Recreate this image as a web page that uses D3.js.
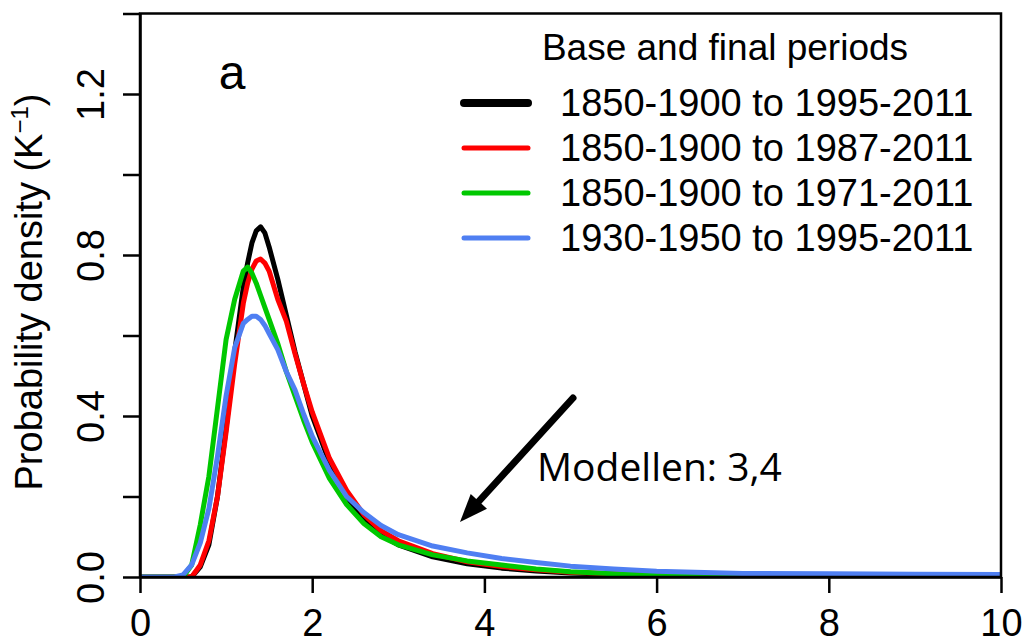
<!DOCTYPE html>
<html>
<head>
<meta charset="utf-8">
<script src="https://cdn.jsdelivr.net/npm/d3@7"></script>
<style>
  html, body { margin: 0; padding: 0; background: #fff; }
  svg { display: block; }
</style>
</head>
<body>
<svg id="chart" width="1025" height="639"></svg>
<script>
// Climate sensitivity posterior densities (K^-1) for four base/final period pairs
const temps = [0, 0.4, 0.5, 0.6, 0.7, 0.8, 0.9, 1.0, 1.1, 1.2, 1.25, 1.3, 1.35, 1.4, 1.45, 1.5,
               1.6, 1.7, 1.8, 1.9, 2.0, 2.2, 2.4, 2.6, 2.8, 3.0, 3.4, 3.8, 4.2, 4.6, 5.0,
               5.5, 6.0, 7.0, 8.0, 9.0, 10.0];

const density1995 = [0, 0, 0, 0, 0.025, 0.08, 0.2, 0.37, 0.56, 0.72, 0.78, 0.83, 0.86, 0.87, 0.855, 0.82,
                     0.74, 0.65, 0.56, 0.48, 0.40, 0.285, 0.2, 0.14, 0.105, 0.08, 0.05, 0.033, 0.022, 0.015, 0.01,
                     0.007, 0.005, 0.003, 0.003, 0.002, 0.001];
const density1987 = [0, 0, 0, 0, 0.03, 0.09, 0.2, 0.36, 0.53, 0.68, 0.73, 0.765, 0.785, 0.79, 0.78, 0.76,
                     0.69, 0.635, 0.555, 0.48, 0.41, 0.295, 0.215, 0.155, 0.115, 0.09, 0.058, 0.038, 0.026, 0.018, 0.012,
                     0.008, 0.005, 0.003, 0.002, 0.001, 0.001];
const density1971 = [0, 0, 0, 0.03, 0.13, 0.25, 0.42, 0.59, 0.69, 0.76, 0.77, 0.755, 0.73, 0.70, 0.67, 0.64,
                     0.58, 0.51, 0.45, 0.39, 0.335, 0.245, 0.18, 0.133, 0.1, 0.08, 0.055, 0.04, 0.03, 0.02, 0.013,
                     0.008, 0.004, 0.002, 0.001, 0.001, 0];
const density1930 = [0, 0, 0.005, 0.03, 0.085, 0.17, 0.3, 0.45, 0.57, 0.63, 0.64, 0.648, 0.648, 0.64, 0.625, 0.605,
                     0.565, 0.51, 0.465, 0.405, 0.35, 0.265, 0.2, 0.16, 0.128, 0.105, 0.077, 0.06, 0.046, 0.036, 0.027,
                     0.02, 0.014, 0.009, 0.008, 0.007, 0.006];

const seriesLabels = ["1850-1900 to 1995-2011", "1850-1900 to 1987-2011",
                      "1850-1900 to 1971-2011", "1930-1950 to 1995-2011"];
const seriesColors = ["#000000", "#ff0000", "#00c800", "#4f7ff2"];
const seriesValues = [density1995, density1987, density1971, density1930];

const xTicks = [0, 2, 4, 6, 8, 10];
const yTicks = [0, 0.2, 0.4, 0.6, 0.8, 1.0, 1.2, 1.4];
const yLabelled = [0, 0.4, 0.8, 1.2];

const svg = d3.select("#chart");
const FONT = "'Liberation Sans', Arial, sans-serif";

const x = d3.scaleLinear().domain([0, 10]).range([140, 1001]);
const y = d3.scaleLinear().domain([0, 1.4]).range([577, 13.5]);

// clip the density curves to the plotting region
svg.append("defs").append("clipPath").attr("id", "plotClip")
  .append("rect")
  .attr("x", x(0)).attr("y", y(1.4))
  .attr("width", x(10) - x(0)).attr("height", y(0) - y(1.4));

const line = d3.line()
  .x((d, i) => x(temps[i]))
  .y(d => y(d));

const curves = svg.append("g").attr("clip-path", "url(#plotClip)");
seriesValues.forEach((vals, k) => {
  curves.append("path")
    .datum(vals)
    .attr("d", line)
    .attr("fill", "none")
    .attr("stroke", seriesColors[k])
    .attr("stroke-width", 5)
    .attr("stroke-linejoin", "round");
});

// plot frame
svg.append("rect")
  .attr("x", x(0)).attr("y", y(1.4))
  .attr("width", x(10) - x(0)).attr("height", y(0) - y(1.4))
  .attr("fill", "none").attr("stroke", "#000").attr("stroke-width", 2.5);

// y axis
const yAxis = svg.append("g")
  .attr("transform", `translate(${x(0)},0)`)
  .call(d3.axisLeft(y).tickValues(yTicks).tickSize(17).tickSizeOuter(0)
    .tickFormat(d => yLabelled.some(v => Math.abs(v - d) < 1e-9) ? d3.format(".1f")(d) : ""));
yAxis.select(".domain").attr("stroke-width", 2.5);
yAxis.selectAll(".tick line").attr("stroke-width", 2.5);
yAxis.selectAll(".tick text")
  .attr("x", null).attr("dy", null)
  .attr("transform", "translate(-36,0) rotate(-90)")
  .attr("text-anchor", "middle")
  .attr("font-family", FONT).attr("font-size", 38).attr("fill", "#000");

// x axis
const xAxis = svg.append("g")
  .attr("transform", `translate(0,${y(0)})`)
  .call(d3.axisBottom(x).tickValues(xTicks).tickSize(16).tickSizeOuter(0).tickFormat(d3.format("d")));
xAxis.select(".domain").attr("stroke-width", 2.5);
xAxis.selectAll(".tick line").attr("stroke-width", 2.5);
xAxis.selectAll(".tick text")
  .attr("y", 59).attr("dy", null)
  .attr("font-family", FONT).attr("font-size", 38).attr("fill", "#000");

// y axis title
const yTitle = svg.append("text")
  .attr("transform", "translate(42,292) rotate(-90)")
  .attr("text-anchor", "middle")
  .attr("font-family", FONT).attr("font-size", 38).attr("fill", "#000");
yTitle.append("tspan").text("Probability density (K");
yTitle.append("tspan").attr("font-size", 24).attr("dy", -14).text("\u22121");
yTitle.append("tspan").attr("dy", 14).text(")");

// panel letter
svg.append("text")
  .attr("x", 232).attr("y", 89)
  .attr("text-anchor", "middle")
  .attr("font-family", FONT).attr("font-size", 48).attr("fill", "#000")
  .text("a");

// legend
svg.append("text")
  .attr("x", 725).attr("y", 60)
  .attr("text-anchor", "middle")
  .attr("font-family", FONT).attr("font-size", 37).attr("fill", "#000")
  .text("Base and final periods");

const legendRows = [103, 148, 193, 238];
seriesLabels.forEach((lab, k) => {
  svg.append("line")
    .attr("x1", 464).attr("x2", 528)
    .attr("y1", legendRows[k]).attr("y2", legendRows[k])
    .attr("stroke", seriesColors[k])
    .attr("stroke-width", k === 0 ? 8 : 5)
    .attr("stroke-linecap", "round");
  svg.append("text")
    .attr("x", 560).attr("y", legendRows[k] + 13)
    .attr("font-family", FONT).attr("font-size", 38).attr("fill", "#000")
    .text(lab);
});

// annotation arrow pointing at the tails
const arrowFrom = [573, 398];
const arrowTo = [460, 522];
const ang = Math.atan2(arrowTo[1] - arrowFrom[1], arrowTo[0] - arrowFrom[0]);
const headLen = 28, headHalf = 11;
const baseX = arrowTo[0] - headLen * Math.cos(ang), baseY = arrowTo[1] - headLen * Math.sin(ang);
svg.append("line")
  .attr("x1", arrowFrom[0]).attr("y1", arrowFrom[1])
  .attr("x2", baseX + 4 * Math.cos(ang)).attr("y2", baseY + 4 * Math.sin(ang))
  .attr("stroke", "#000").attr("stroke-width", 7).attr("stroke-linecap", "round");
svg.append("path")
  .attr("d", d3.line()([
    arrowTo,
    [baseX + headHalf * Math.sin(ang), baseY - headHalf * Math.cos(ang)],
    [baseX - headHalf * Math.sin(ang), baseY + headHalf * Math.cos(ang)]
  ]) + "Z")
  .attr("fill", "#000");

svg.append("text")
  .attr("x", 537).attr("y", 481)
  .attr("font-family", "'Open Sans', sans-serif").attr("font-size", 39).attr("fill", "#000")
  .text("Modellen: 3,4");
</script>
</body>
</html>
